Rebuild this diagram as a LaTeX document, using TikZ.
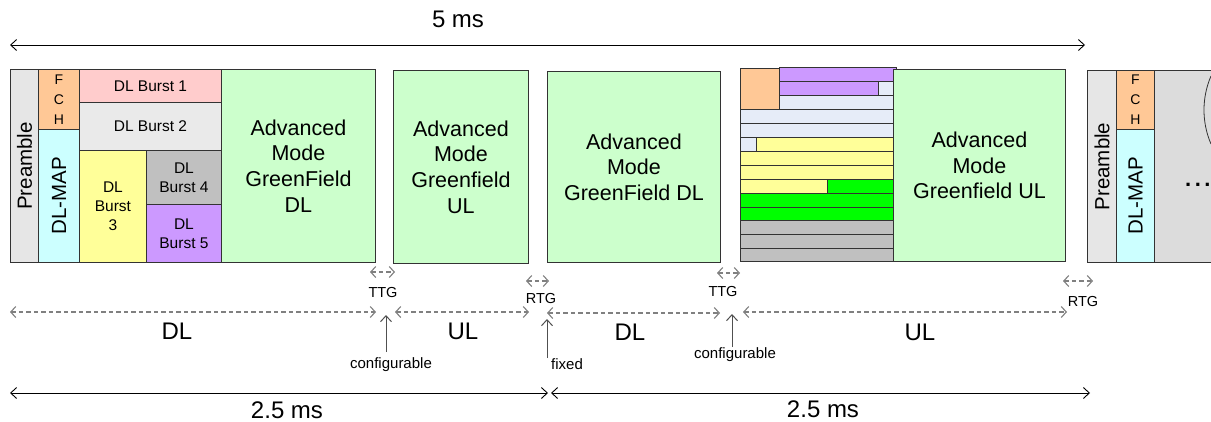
\documentclass[tikz,border=0pt]{standalone}
\usepackage{fontspec}
\setmainfont{Liberation Sans}
\usetikzlibrary{arrows.meta}
\definecolor{pre}{HTML}{E6E6E6}
\definecolor{fch}{HTML}{FFC896}
\definecolor{dlmap}{HTML}{CCFFFF}
\definecolor{bone}{HTML}{FFCCCC}
\definecolor{btwo}{HTML}{EAEAEA}
\definecolor{bthree}{HTML}{FFFF99}
\definecolor{bfour}{HTML}{C0C0C0}
\definecolor{bfive}{HTML}{CC99FF}
\definecolor{gfield}{HTML}{CCFFCC}
\definecolor{lblue}{HTML}{E6ECF8}
\definecolor{bgreen}{HTML}{00FF00}
\definecolor{rest}{HTML}{DCDCDC}
\definecolor{edge}{HTML}{333333}
\definecolor{dashc}{HTML}{808080}
\definecolor{ptrc}{HTML}{505050}
\newcommand\myfs[2]{\fontsize{#1}{#2}\selectfont}
\begin{document}
\begin{tikzpicture}[x=1pt,y=-1pt,
  cell/.style={draw=edge, line width=0.9pt, anchor=north west, inner sep=0pt, align=center},
  strip/.style={draw=edge, line width=0.9pt},
  big/.style={font=\myfs{21.5}{25.6}},
  burst/.style={font=\myfs{15.5}{19}},
  vert/.style={rotate=90, font=\myfs{20.5}{22}},
  dim/.style={black, line width=0.9pt, {Straight Barb[length=6pt,width=11pt]}-{Straight Barb[length=6pt,width=11pt]}},
  gap/.style={dashc, line width=1.1pt, dash pattern=on 4.5pt off 3pt, {Straight Barb[length=5pt,width=11pt]}-{Straight Barb[length=5pt,width=11pt]}},
  ptr/.style={ptrc, line width=1pt, -{Straight Barb[length=6pt,width=11pt]}},
  lab/.style={font=\myfs{24}{28}},
  small/.style={font=\myfs{14.5}{17}},
  note/.style={font=\myfs{15}{18}}
]
\fill[white] (0,0) rectangle (1211,421);
\useasboundingbox (0,0) rectangle (1211,421);

% ---- frame 1 DL part
\node[cell, fill=pre, minimum width=28pt, minimum height=193pt] (pre1) at (10,69) {};
\node[vert] at (pre1.center) {Preamble};
\node[cell, fill=fch, minimum width=41pt, minimum height=60pt, font=\myfs{14}{20}] (fch1) at (38,69) {F\\C\\H};
\node[cell, fill=dlmap, minimum width=41pt, minimum height=133pt] (map1) at (38,129) {};
\node[vert] at (map1.center) {DL-MAP};
\node[cell, burst, fill=bone, minimum width=142pt, minimum height=33pt] (b1) at (79,69) {DL Burst 1};
\node[cell, burst, fill=btwo, minimum width=142pt, minimum height=48pt] (b2) at (79,102) {DL Burst 2};
\node[cell, burst, fill=bthree, minimum width=67pt, minimum height=112pt] (b3) at (79,150) {DL\\Burst\\3};
\node[cell, burst, fill=bfour, minimum width=75pt, minimum height=54pt] (b4) at (146,150) {DL\\Burst 4};
\node[cell, burst, fill=bfive, minimum width=75pt, minimum height=58pt] (b5) at (146,204) {DL\\Burst 5};
\node[cell, big, fill=gfield, minimum width=154pt, minimum height=193pt] (g1) at (221,69) {Advanced\\Mode\\GreenField\\DL};

% ---- UL 1
\node[cell, big, fill=gfield, minimum width=135pt, minimum height=193pt] (g2) at (393,70) {Advanced\\Mode\\Greenfield\\UL};

% ---- DL 2
\node[cell, big, fill=gfield, minimum width=173pt, minimum height=191pt] (g3) at (547,71) {Advanced\\Mode\\GreenField DL};

% ---- UL 2 allocation strips
\draw[strip, fill=fch] (740,68) rectangle (779,109);
\draw[strip, fill=bfive] (779,67) rectangle (896,81);
\draw[strip, fill=bfive] (779,81) rectangle (878,95);
\draw[strip, fill=lblue] (878,81) rectangle (893,95);
\draw[strip, fill=lblue] (779,95) rectangle (893,109);
\draw[strip, fill=lblue] (740,109) rectangle (893,123);
\draw[strip, fill=lblue] (740,123) rectangle (893,137);
\draw[strip, fill=lblue] (740,137) rectangle (756,151);
\draw[strip, fill=bthree] (756,137) rectangle (893,151);
\draw[strip, fill=bthree] (740,151) rectangle (893,165);
\draw[strip, fill=bthree] (740,165) rectangle (893,179);
\draw[strip, fill=bthree] (740,179) rectangle (827,193);
\draw[strip, fill=bgreen] (827,179) rectangle (893,193);
\draw[strip, fill=bgreen] (740,193) rectangle (893,207);
\draw[strip, fill=bgreen] (740,207) rectangle (893,220);
\draw[strip, fill=bfour] (740,220) rectangle (893,234);
\draw[strip, fill=bfour] (740,234) rectangle (893,248);
\draw[strip, fill=bfour] (740,248) rectangle (893,261);
\node[cell, big, fill=gfield, minimum width=172pt, minimum height=192pt] (g4) at (893,69) {Advanced\\Mode\\Greenfield UL};

% ---- next frame
\begin{scope}
\clip (0,0) rectangle (1211,421);
\node[cell, fill=rest, minimum width=70pt, minimum height=192pt] (rest2) at (1154,70) {};
\draw[edge, line width=0.8pt] (1211,76) arc[start angle=203.3, end angle=156.7, radius=86];
\node[font=\bfseries\myfs{22}{26}, anchor=base west, inner sep=0pt] (dots) at (1185,186) {.\hspace{3.5pt}.\hspace{3.5pt}.};
\end{scope}
\node[cell, fill=pre, minimum width=29pt, minimum height=192pt] (pre2) at (1087,70) {};
\node[vert] at (pre2.center) {Preamble};
\node[cell, fill=fch, minimum width=38pt, minimum height=59pt, font=\myfs{14}{20}] (fch2) at (1116,70) {F\\C\\H};
\node[cell, fill=dlmap, minimum width=38pt, minimum height=133pt] (map2) at (1116,129) {};
\node[vert] at (map2.center) {DL-MAP};

% ---- 5 ms
\coordinate (t5l) at (10,45); \coordinate (t5r) at (1085,45);
\draw[dim] (t5l) -- (t5r);
\node[lab] (t5) at (458,19) {5 ms};

% ---- gaps
\coordinate (ttg1a) at (370,272); \coordinate (ttg1b) at (395,272);
\draw[gap] (ttg1a) -- (ttg1b);
\node[small] (ttg1) at (383,293) {TTG};
\coordinate (rtg1a) at (526,281); \coordinate (rtg1b) at (549,281);
\draw[gap] (rtg1a) -- (rtg1b);
\node[small] (rtg1) at (541,299) {RTG};
\coordinate (ttg2a) at (717,273); \coordinate (ttg2b) at (740,273);
\draw[gap] (ttg2a) -- (ttg2b);
\node[small] (ttg2) at (723,292) {TTG};
\coordinate (rtg2a) at (1063,281); \coordinate (rtg2b) at (1093,281);
\draw[gap] (rtg2a) -- (rtg2b);
\node[small] (rtg2) at (1083,302) {RTG};

% ---- DL / UL spans
\coordinate (dl1a) at (10,312); \coordinate (dl1b) at (376,312);
\draw[gap] (dl1a) -- (dl1b);
\node[lab] (dl1) at (177,331) {DL};
\coordinate (ul1a) at (395,312); \coordinate (ul1b) at (529,312);
\draw[gap] (ul1a) -- (ul1b);
\node[lab] (ul1) at (463,331) {UL};
\coordinate (dl2a) at (547,313); \coordinate (dl2b) at (720,313);
\draw[gap] (dl2a) -- (dl2b);
\node[lab] (dl2) at (630,332) {DL};
\coordinate (ul2a) at (743,312); \coordinate (ul2b) at (1067,312);
\draw[gap] (ul2a) -- (ul2b);
\node[lab] (ul2) at (920,332) {UL};

% ---- pointers
\coordinate (c1a) at (386,352); \coordinate (c1b) at (386,315);
\draw[ptr] (c1a) -- (c1b);
\node[note] (conf1) at (391,365) {configurable};
\coordinate (fxa) at (547,358); \coordinate (fxb) at (547,319);
\draw[ptr] (fxa) -- (fxb);
\node[note] (fixed) at (567,364) {fixed};
\coordinate (c2a) at (732,347); \coordinate (c2b) at (732,314);
\draw[ptr] (c2a) -- (c2b);
\node[note] (conf2) at (735,355) {configurable};

% ---- 2.5 ms
\coordinate (h1a) at (10,393); \coordinate (h1b) at (548,393);
\draw[dim] (h1a) -- (h1b);
\node[lab] (h1) at (287,410) {2.5 ms};
\coordinate (h2a) at (551,393); \coordinate (h2b) at (1090,393);
\draw[dim] (h2a) -- (h2b);
\node[lab] (h2) at (823,409) {2.5 ms};
\end{tikzpicture}
\end{document}
